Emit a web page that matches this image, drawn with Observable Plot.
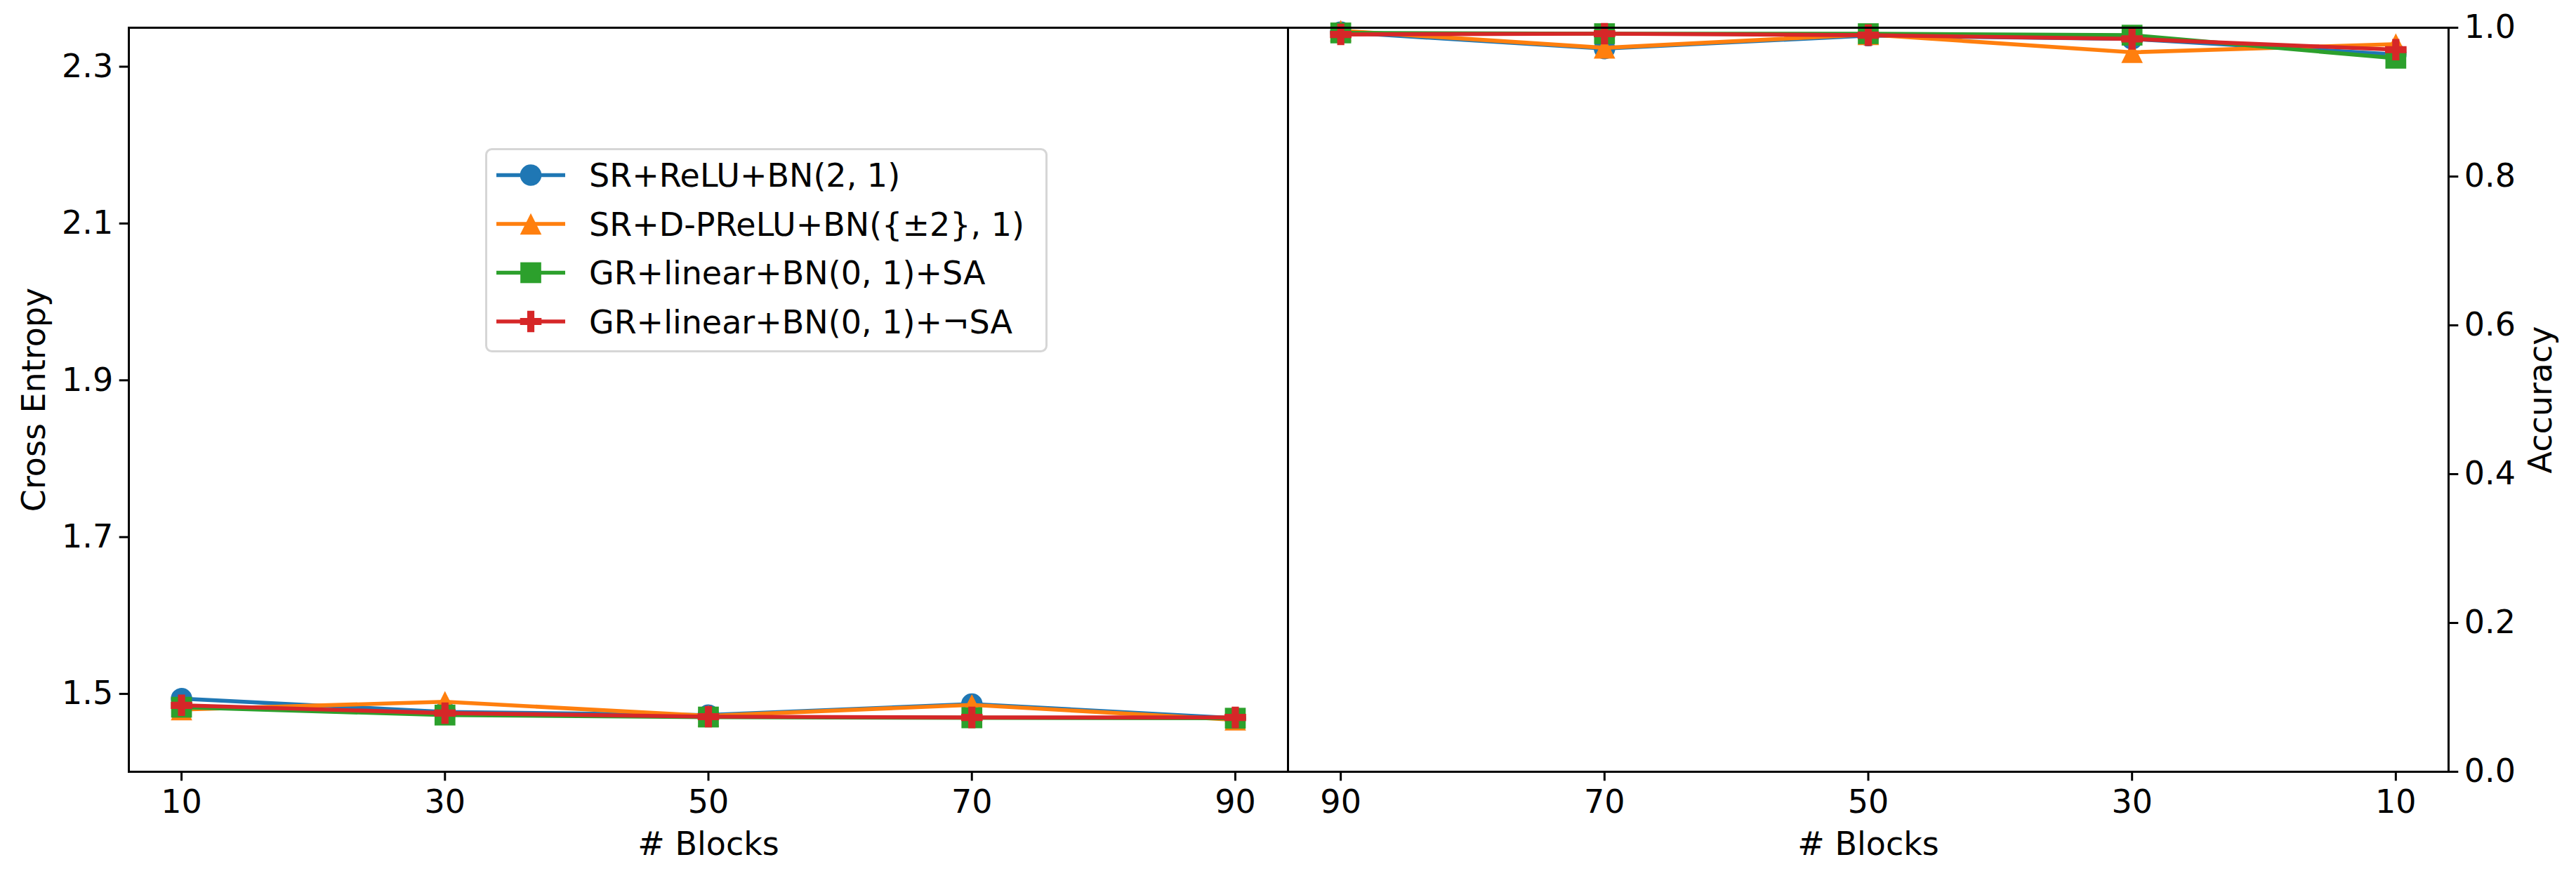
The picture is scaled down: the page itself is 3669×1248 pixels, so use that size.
<!DOCTYPE html>
<html>
<head>
<meta charset="utf-8">
<script src="https://cdn.jsdelivr.net/npm/d3@7"></script>
<script src="https://cdn.jsdelivr.net/npm/@observablehq/plot@0.6"></script>
<style>
  html, body { margin: 0; padding: 0; background: #ffffff; }
  #chart { position: relative; width: 3669px; height: 1248px; overflow: hidden; background: #ffffff; }
  #chart svg { position: absolute; left: 0; top: 0; }
</style>
</head>
<body>
<div id="chart"></div>
<script>
// ---------------- data ----------------
const blocks = [10, 30, 50, 70, 90];
const blocksReversed = [90, 70, 50, 30, 10];
const seriesNames = [
  "SR+ReLU+BN(2, 1)",
  "SR+D-PReLU+BN({±2}, 1)",
  "GR+linear+BN(0, 1)+SA",
  "GR+linear+BN(0, 1)+¬SA"
];
// Cross entropy (left panel), values at blocks 10,30,50,70,90
const ceSRReLU   = [1.494, 1.477, 1.473, 1.487, 1.469];
const ceSRDPReLU = [1.480, 1.490, 1.472, 1.486, 1.467];
const ceGRSA     = [1.483, 1.473, 1.4705, 1.4695, 1.469];
const ceGRnoSA   = [1.4855, 1.4755, 1.471, 1.470, 1.470];
// Accuracy (right panel), values at blocks 10,30,50,70,90
const accSRReLU   = [0.964, 0.985, 0.9895, 0.972, 0.994];
const accSRDPReLU = [0.978, 0.967, 0.991, 0.973, 0.996];
const accGRSA     = [0.959, 0.990, 0.992, 0.992, 0.993];
const accGRnoSA   = [0.9705, 0.985, 0.990, 0.992, 0.991];
const ceTicks  = [1.5, 1.7, 1.9, 2.1, 2.3];
const accTicks = [0.0, 0.2, 0.4, 0.6, 0.8, 1.0];

// ---------------- styling / layout ----------------
const W = 3669, H = 1248;
const F = {left: 183, mid: 1834, right: 3487, top: 39, bottom: 1099};
const colors = ["#1f77b4", "#ff7f0e", "#2ca02c", "#d62728"];
const LW = 5.7;      // line width
const MR = 15.3;     // marker half-extent
const FONT = "DejaVu Sans";
const FS = 46;

// matplotlib-like marker shapes (o, ^, s, P)
const symCircle = {draw(ctx, size) { const r = Math.sqrt(size / Math.PI); ctx.moveTo(r, 0); ctx.arc(0, 0, r, 0, 2 * Math.PI); ctx.closePath(); }};
const symTriangle = {draw(ctx, size) { const r = Math.sqrt(size / Math.PI); ctx.moveTo(0, -r); ctx.lineTo(r, r); ctx.lineTo(-r, r); ctx.closePath(); }};
const symSquare = {draw(ctx, size) { const r = Math.sqrt(size / Math.PI) * 0.97; ctx.moveTo(-r, -r); ctx.lineTo(r, -r); ctx.lineTo(r, r); ctx.lineTo(-r, r); ctx.closePath(); }};
const symPlus = {draw(ctx, size) {
  const r = Math.sqrt(size / Math.PI), a = r / 3;
  ctx.moveTo(-a, -r); ctx.lineTo(a, -r); ctx.lineTo(a, -a); ctx.lineTo(r, -a); ctx.lineTo(r, a);
  ctx.lineTo(a, a); ctx.lineTo(a, r); ctx.lineTo(-a, r); ctx.lineTo(-a, a); ctx.lineTo(-r, a);
  ctx.lineTo(-r, -a); ctx.lineTo(-a, -a); ctx.closePath();
}};
const symbols = [symCircle, symTriangle, symSquare, symPlus];

const svgStyle = {fontFamily: FONT, fontSize: FS + "px", background: "transparent", color: "black", overflow: "visible"};

function table(values) { return blocks.map((b, i) => ({block: b, value: values[i]})); }

function seriesMarks(allSeries) {
  const marks = [];
  allSeries.forEach((vals, k) => {
    const data = table(vals);
    marks.push(Plot.line(data, {x: "block", y: "value", stroke: colors[k], strokeWidth: LW, strokeLinejoin: "round", strokeLinecap: "square"}));
    marks.push(Plot.dot(data, {x: "block", y: "value", r: MR, symbol: symbols[k], fill: colors[k], stroke: "none"}));
  });
  return marks;
}

const left = Plot.plot({
  width: W, height: H,
  marginLeft: F.left, marginRight: W - F.mid, marginTop: F.top, marginBottom: H - F.bottom,
  x: {domain: [6, 94]},
  y: {domain: [1.4007, 2.3497]},
  style: svgStyle,
  marks: [
    ...seriesMarks([ceSRReLU, ceSRDPReLU, ceGRSA, ceGRnoSA]),
    Plot.axisX({anchor: "bottom", ticks: blocks, tickFormat: d => String(d), tickSize: 13.3, tickPadding: 13, strokeWidth: 3,
      label: "# Blocks", labelAnchor: "center", labelOffset: 118.5, labelArrow: "none"}),
    Plot.axisY({anchor: "left", ticks: ceTicks, tickFormat: ".1f", tickSize: 13.3, tickPadding: 9, strokeWidth: 3,
      label: "Cross Entropy", labelAnchor: "center", labelOffset: 152, labelArrow: "none"}),
    Plot.frame({stroke: "black", strokeWidth: 3})
  ]
});

const right = Plot.plot({
  width: W, height: H,
  marginLeft: F.mid, marginRight: W - F.right, marginTop: F.top, marginBottom: H - F.bottom,
  x: {domain: [94, 6]},
  y: {domain: [0, 1]},
  style: svgStyle,
  marks: [
    ...seriesMarks([accSRReLU, accSRDPReLU, accGRSA, accGRnoSA]),
    Plot.axisX({anchor: "bottom", ticks: blocksReversed, tickFormat: d => String(d), tickSize: 13.3, tickPadding: 13, strokeWidth: 3,
      label: "# Blocks", labelAnchor: "center", labelOffset: 118.5, labelArrow: "none"}),
    Plot.axisY({anchor: "right", ticks: accTicks, tickFormat: ".1f", tickSize: 13.3, tickPadding: 9, strokeWidth: 3,
      label: "Accuracy", labelAnchor: "center", labelOffset: 146.5, labelArrow: "none"}),
    Plot.frame({stroke: "black", strokeWidth: 3})
  ]
});

const chart = document.getElementById("chart");
chart.appendChild(left);
chart.appendChild(right);

// ---------------- legend (overlay inside left panel) ----------------
const LG = {x: 691, y: 211, w: 801, h: 291, row0: 249.5, rowStep: 69.5, h1: 707, h2: 805, hm: 756, tx: 839};
const lg = d3.select(chart).append("svg")
  .attr("width", W).attr("height", H)
  .style("pointer-events", "none");
lg.append("rect")
  .attr("x", LG.x + 1.5).attr("y", LG.y + 1.5)
  .attr("width", LG.w - 3).attr("height", LG.h - 3)
  .attr("rx", 8).attr("ry", 8)
  .attr("fill", "rgba(255,255,255,0.8)")
  .attr("stroke", "#d6d6d6").attr("stroke-width", 3);
seriesNames.forEach((name, k) => {
  const cy = LG.row0 + k * LG.rowStep;
  lg.append("line").attr("x1", LG.h1).attr("x2", LG.h2).attr("y1", cy).attr("y2", cy)
    .attr("stroke", colors[k]).attr("stroke-width", LW);
  lg.append("path")
    .attr("transform", `translate(${LG.hm},${cy})`)
    .attr("d", d3.symbol().type(symbols[k]).size(Math.PI * MR * MR)())
    .attr("fill", colors[k]);
  lg.append("text").attr("x", LG.tx).attr("y", cy + 16.8)
    .attr("font-family", FONT).attr("font-size", FS).attr("fill", "black")
    .text(name);
});
</script>
</body>
</html>
